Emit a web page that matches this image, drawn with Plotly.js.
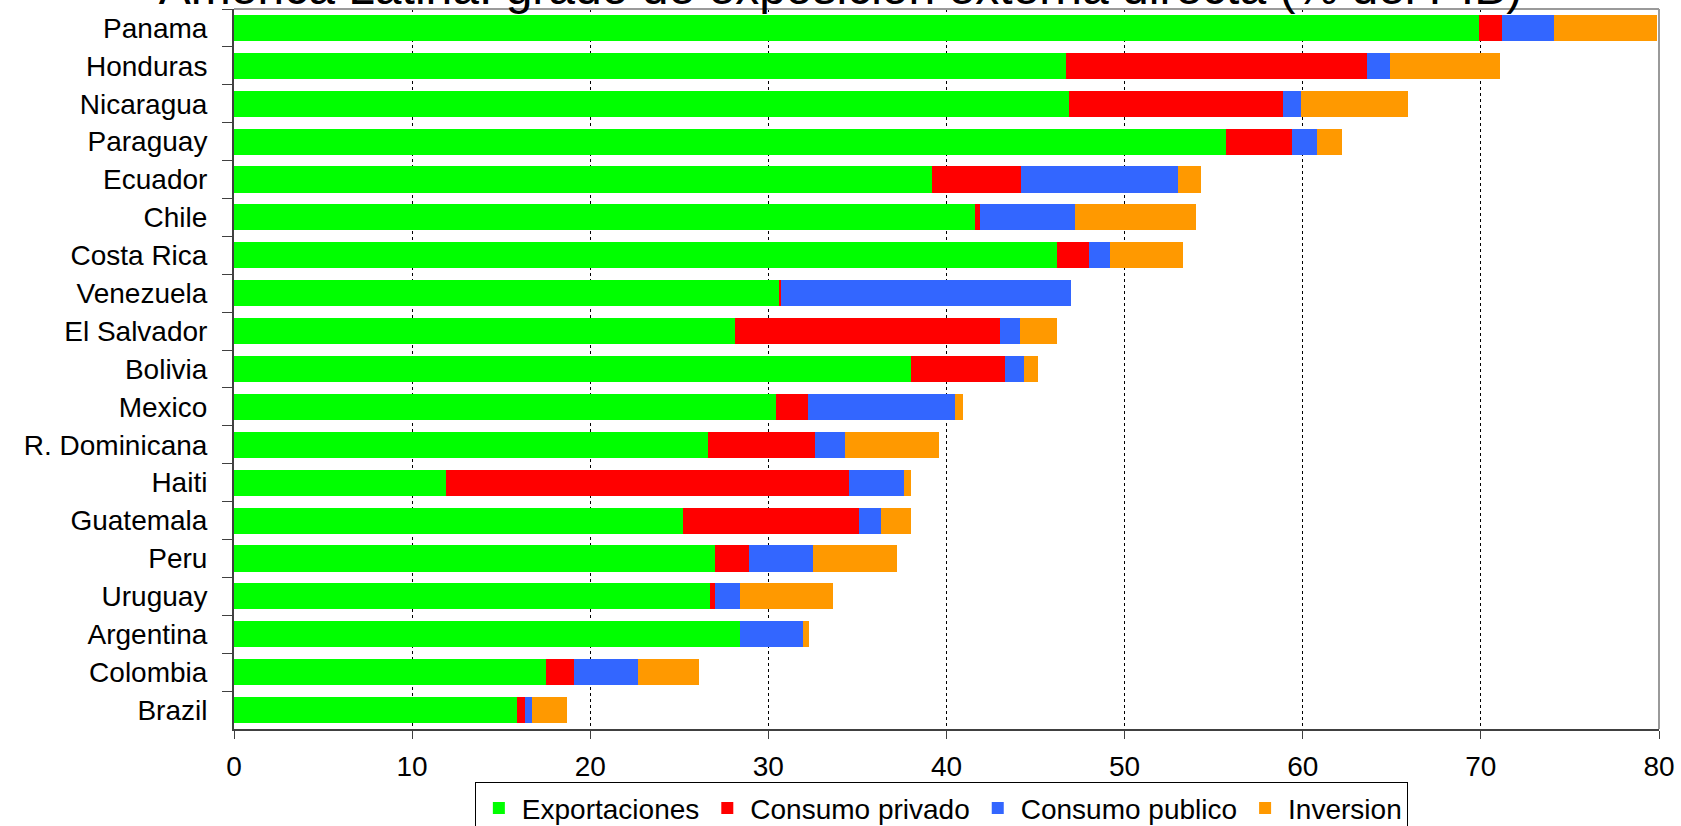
<!DOCTYPE html>
<html>
<head>
<meta charset="utf-8">
<script src="https://cdn.plot.ly/plotly-3.0.1.min.js"></script>
<style>
  html, body { margin: 0; padding: 0; background: #ffffff; }
  #chart { width: 1681px; height: 826px; }
</style>
</head>
<body>
<div id="chart"></div>
<script>
const countries = ["Panama","Honduras","Nicaragua","Paraguay","Ecuador","Chile","Costa Rica","Venezuela","El Salvador","Bolivia","Mexico","R. Dominicana","Haiti","Guatemala","Peru","Uruguay","Argentina","Colombia","Brazil"];

const exportaciones  = [69.9, 46.7, 46.9, 55.7, 39.2, 41.6, 46.2, 30.6, 28.1, 38.0, 30.4, 26.6, 11.9, 25.2, 27.0, 26.7, 28.4, 17.5, 15.9];
const consumoPrivado = [1.3, 16.9, 12.0, 3.7, 5.0, 0.3, 1.8, 0.1, 14.9, 5.3, 1.8, 6.0, 22.6, 9.9, 1.9, 0.3, 0.0, 1.6, 0.45];
const consumoPublico = [2.9, 1.3, 1.0, 1.4, 8.8, 5.3, 1.2, 16.3, 1.1, 1.05, 8.25, 1.7, 3.1, 1.2, 3.6, 1.4, 3.55, 3.6, 0.4];
const inversion      = [5.8, 6.2, 6.0, 1.4, 1.3, 6.8, 4.1, 0.0, 2.1, 0.8, 0.5, 5.3, 0.4, 1.7, 4.7, 5.2, 0.35, 3.4, 1.95];

const seriesNames = ["Exportaciones", "Consumo privado", "Consumo publico", "Inversion"];
const seriesValues = [exportaciones, consumoPrivado, consumoPublico, inversion];
const seriesColors = ["#00FF00", "#FF0000", "#3366FF", "#FF9900"];

const titleText = "America Latina: grado de exposicion externa directa (% del PIB)";
const xTicks = [0, 10, 20, 30, 40, 50, 60, 70, 80];

const FONT = "Liberation Sans, Arial, Helvetica, sans-serif";

const traces = seriesNames.map((name, i) => ({
  type: "bar",
  orientation: "h",
  name: name,
  y: countries,
  x: seriesValues[i],
  marker: { color: seriesColors[i], line: { width: 0 } },
  hoverinfo: "x+y+name"
}));

const layout = {
  width: 1681,
  height: 826,
  paper_bgcolor: "#ffffff",
  plot_bgcolor: "#ffffff",
  font: { family: FONT, color: "#000000", size: 28 },
  margin: { l: 234, r: 22, t: 9, b: 97, pad: 0, autoexpand: false },
  barmode: "stack",
  bargap: 0.31,
  title: {
    text: titleText,
    font: { family: FONT, size: 48, color: "#000000" },
    xref: "container", x: 0.5, xanchor: "center",
    yref: "container", y: 0.995, yanchor: "bottom"
  },
  xaxis: {
    range: [0, 80],
    tickvals: xTicks,
    ticktext: xTicks.map(String),
    ticks: "outside",
    ticklen: 8,
    tickwidth: 1,
    tickcolor: "#404040",
    tickfont: { family: FONT, size: 28, color: "#000000" },
    ticklabelstandoff: 3,
    showgrid: true,
    gridcolor: "#000000",
    gridwidth: 1,
    griddash: "dot",
    zeroline: false,
    showline: true,
    linecolor: "#404040",
    linewidth: 2,
    fixedrange: true,
    automargin: false
  },
  yaxis: {
    type: "category",
    autorange: "reversed",
    ticks: "outside",
    tickson: "boundaries",
    ticklen: 10,
    tickwidth: 1,
    tickcolor: "#404040",
    tickfont: { family: FONT, size: 28, color: "#000000" },
    ticklabelstandoff: 19,
    showgrid: false,
    zeroline: false,
    showline: true,
    linecolor: "#404040",
    linewidth: 2,
    fixedrange: true,
    automargin: false
  },
  legend: {
    orientation: "h",
    xref: "container", x: 0.560, xanchor: "center",
    yref: "container", y: 0.053, yanchor: "top",
    itemwidth: 36,
    bgcolor: "#ffffff",
    bordercolor: "#000000",
    borderwidth: 1,
    font: { family: FONT, size: 28, color: "#000000" },
    traceorder: "normal"
  },
  shapes: [
    { type: "line", xref: "paper", yref: "paper", x0: 0, x1: 1, y0: 1, y1: 1, line: { color: "#9a9a9a", width: 2 } },
    { type: "line", xref: "paper", yref: "paper", x0: 1, x1: 1, y0: 0, y1: 1, line: { color: "#9a9a9a", width: 2 } }
  ],
  showlegend: true
};

Plotly.newPlot("chart", traces, layout, { displayModeBar: false, responsive: false });
</script>
</body>
</html>
